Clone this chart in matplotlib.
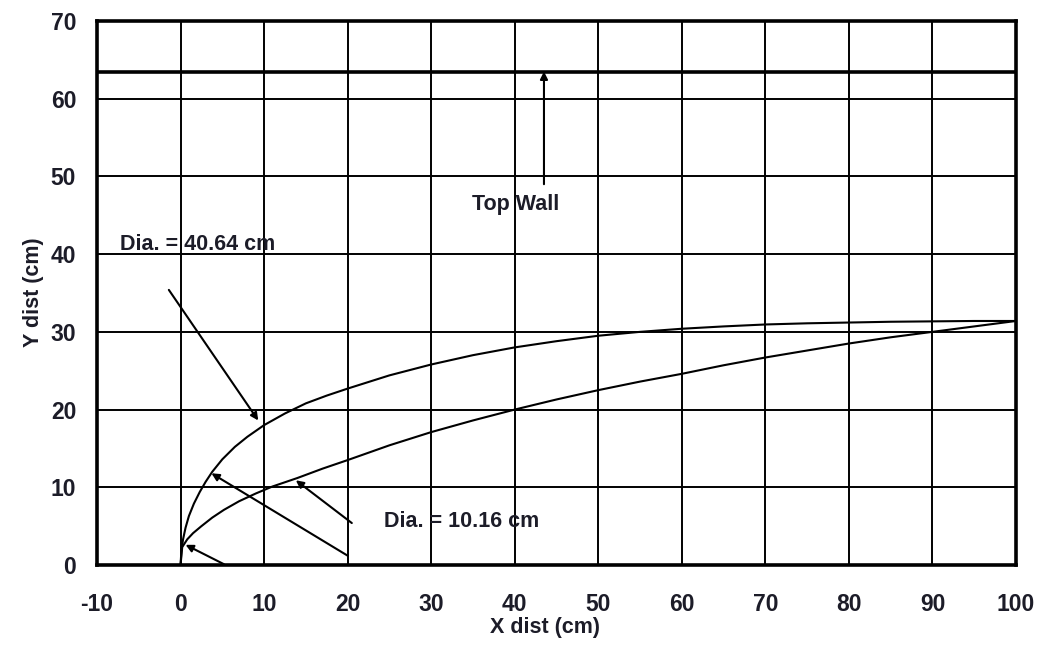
import matplotlib
matplotlib.use("Agg")
import matplotlib.pyplot as plt
from matplotlib import font_manager

# ---- data ----
x_ticks = [-10, 0, 10, 20, 30, 40, 50, 60, 70, 80, 90, 100]
y_ticks = [0, 10, 20, 30, 40, 50, 60, 70]

top_wall_y = 63.5

dia40_x = [0, 0.1, 0.3, 0.6, 1.0, 1.6, 2.3, 3.0, 3.8, 5.0, 6.5, 8.0, 10, 12.5, 15,
           17.5, 20, 25, 30, 35, 40, 45, 50, 55, 60, 65, 70, 75, 80, 85, 90, 95, 100]
dia40_y = [0, 1.8, 3.3, 4.8, 6.3, 7.9, 9.4, 10.7, 12.0, 13.6, 15.2, 16.5, 18.0, 19.5, 20.8,
           21.8, 22.7, 24.4, 25.8, 27.0, 28.0, 28.8, 29.5, 30.0, 30.4, 30.7, 30.95, 31.1,
           31.2, 31.3, 31.35, 31.4, 31.4]

dia10_x = [0, 0.2, 0.8, 1.5, 2.5, 3.8, 5.2, 7, 9, 11, 14, 17, 20, 25, 30, 35, 40, 45,
           50, 55, 60, 65, 70, 75, 80, 85, 90, 95, 100]
dia10_y = [0, 2.3, 3.3, 4.1, 5.0, 6.1, 7.1, 8.2, 9.2, 10.1, 11.2, 12.4, 13.5, 15.4, 17.1,
           18.6, 20.0, 21.3, 22.5, 23.6, 24.6, 25.7, 26.7, 27.6, 28.5, 29.3, 30.0, 30.7, 31.4]

label_40 = "Dia. = 40.64 cm"
label_10 = "Dia. = 10.16 cm"
label_wall = "Top Wall"
x_label = "X dist (cm)"
y_label = "Y dist (cm)"

# ---- font choice: narrow bold if available ----
names = {f.name for f in font_manager.fontManager.ttflist}
if "Liberation Sans Narrow" in names:
    FONT, FS, TFS = "Liberation Sans Narrow", 18.5, 19.5
else:
    FONT, FS, TFS = "Liberation Sans", 15.5, 16.5
plt.rcParams["axes.unicode_minus"] = False

# ---- figure ----
W, H = 1041, 645
fig = plt.figure(figsize=(W / 100, H / 100), dpi=100)
left, right, top, bottom = 97, 1016, 21, 565
ax = fig.add_axes([left / W, 1 - bottom / H, (right - left) / W, (bottom - top) / H])

TXT = "#1c1c28"

ax.set_xlim(-10, 100)
ax.set_ylim(0, 70)
ax.set_xticks(x_ticks)
ax.set_yticks(y_ticks)
ax.grid(True, color="black", lw=1.4)
ax.set_axisbelow(True)
for s in ax.spines.values():
    s.set_linewidth(2.6)
    s.set_color("black")
ax.tick_params(length=0, labelsize=TFS, colors=TXT)
ax.tick_params(axis="x", pad=20)
ax.tick_params(axis="y", pad=15)
for lab in ax.get_xticklabels() + ax.get_yticklabels():
    lab.set_fontfamily(FONT)
    lab.set_fontweight("bold")

ax.axhline(top_wall_y, color="black", lw=2.6)

ax.plot(dia40_x, dia40_y, color="black", lw=1.5)
ax.plot(dia10_x, dia10_y, color="black", lw=1.5)

tk = dict(fontfamily=FONT, fontweight="bold", fontsize=FS, color=TXT)
ap = dict(arrowstyle="-|>", color="black", lw=1.5, mutation_scale=11, shrinkA=0, shrinkB=0)

ax.text(-7.2, 41.2, label_40, ha="left", va="center", **tk)
ax.annotate("", xy=(9.3, 18.6), xytext=(-1.4, 35.4), arrowprops=ap)

ax.text(24.3, 5.6, label_10, ha="left", va="center", **tk)
ax.annotate("", xy=(13.8, 10.9), xytext=(20.5, 5.4), arrowprops=ap)
ax.annotate("", xy=(3.7, 11.8), xytext=(20.0, 1.2), arrowprops=ap)
ax.annotate("", xy=(0.6, 2.6), xytext=(5.2, 0.1), arrowprops=ap)

ax.text(40.1, 46.4, label_wall, ha="center", va="center", **tk)
ax.annotate("", xy=(43.5, 63.5), xytext=(43.5, 49.0), arrowprops=ap)

fig.text(545 / W, 1 - 627 / H, x_label, ha="center", va="center", **tk)
fig.text(33 / W, 1 - 292 / H, y_label, ha="center", va="center", rotation=90, **tk)

fig.savefig("out.png", dpi=100)
